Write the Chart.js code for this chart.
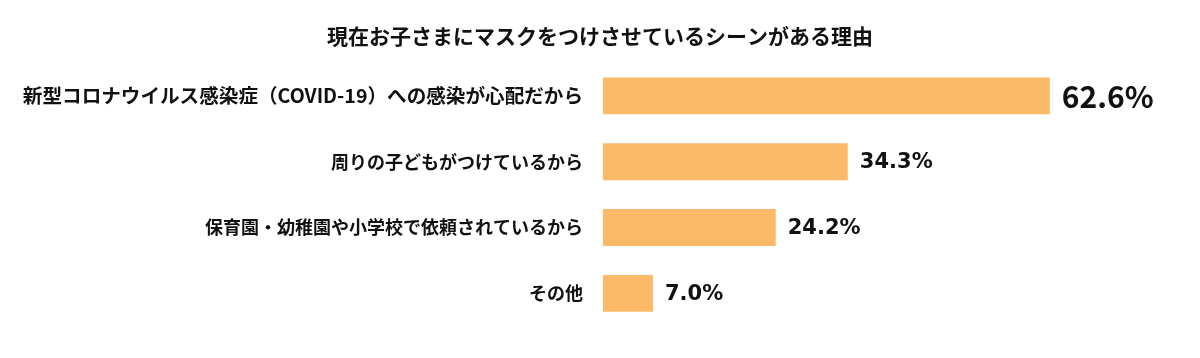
<!DOCTYPE html>
<html><head><meta charset="utf-8">
<script src="https://cdn.jsdelivr.net/npm/chart.js@4"></script>
<style>html,body{margin:0;padding:0;background:#fff}#wrap{width:1200px;height:358px}</style>
</head><body><div id="wrap"><canvas id="c" width="1200" height="358"></canvas></div>
<script>
const titleText = "現在お子さまにマスクをつけさせているシーンがある理由";
const categories = [
  "新型コロナウイルス感染症（COVID-19）への感染が心配だから",
  "周りの子どもがつけているから",
  "保育園・幼稚園や小学校で依頼されているから",
  "その他"
];
const values = [62.6, 34.3, 24.2, 7.0];
const valueLabels = ["62.6%", "34.3%", "24.2%", "7.0%"];

const jp = "'Noto Sans CJK JP', 'Noto Sans', sans-serif";

const overlay = {
  id: 'overlay',
  afterDraw(chart) {
    const ctx = chart.ctx;
    ctx.save();
    ctx.fillStyle = '#111';
    ctx.textAlign = 'center';
    ctx.textBaseline = 'middle';
    ctx.font = "bold 21px " + jp;
    ctx.fillText(titleText, 600, 36);
    const meta = chart.getDatasetMeta(0);
    meta.data.forEach((bar, i) => {
      ctx.textAlign = 'left';
      if (i === 0) ctx.font = "bold 30px " + jp;
      else ctx.font = "bold 21px 'DejaVu Sans', sans-serif";
      ctx.fillText(valueLabels[i], bar.x + 12, bar.y + 1);
    });
    ctx.restore();
  }
};

new Chart(document.getElementById('c'), {
  type: 'bar',
  data: {
    labels: categories,
    datasets: [{
      data: values,
      backgroundColor: '#FCBA68',
      borderWidth: 0,
      barPercentage: 0.56,
      categoryPercentage: 1.0
    }]
  },
  options: {
    indexAxis: 'y',
    responsive: false,
    animation: false,
    layout: { padding: { top: 63, bottom: 28, left: 0, right: 26 } },
    plugins: { legend: { display: false }, tooltip: { enabled: false }, title: { display: false } },
    scales: {
      x: { display: false, min: 0, max: 80 },
      y: {
        grid: { display: false, drawTicks: false },
        border: { display: false },
        ticks: {
          color: '#111', padding: 20,
          font: (c) => ({ family: jp, size: c.index === 0 ? 19.6 : 18, weight: 'bold' })
        },
        afterFit(axis) { axis.width = 603; }
      }
    }
  },
  plugins: [overlay]
});
</script></body></html>
